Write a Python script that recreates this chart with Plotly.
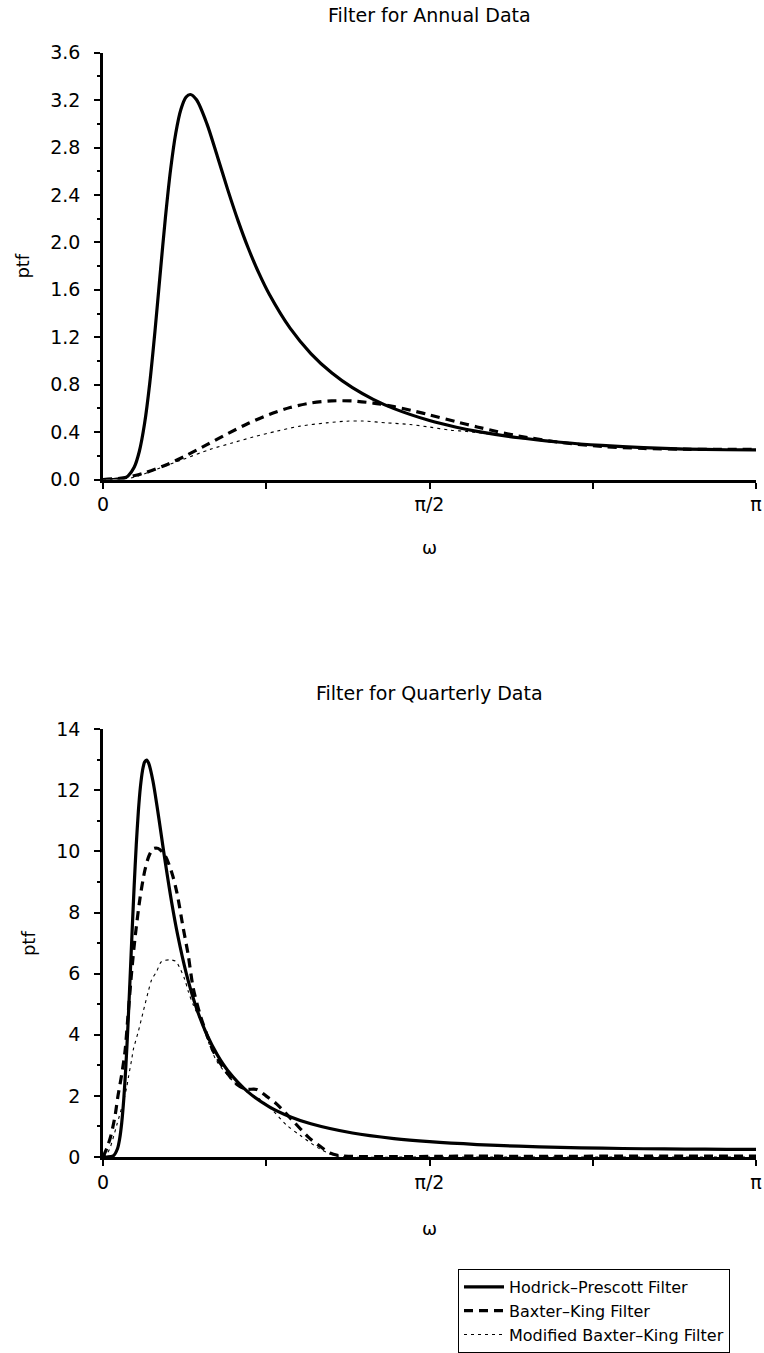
import plotly.graph_objects as go
import math

PI = math.pi

# ---------------- Annual data ----------------
ann_hp_w = [0, 0.05, 0.1, 0.12, 0.15, 0.175, 0.2, 0.225, 0.25, 0.275, 0.3, 0.325, 0.35, 0.375,
            0.4, 0.42, 0.45, 0.5, 0.55, 0.6, 0.65, 0.7, 0.75, 0.8, 0.9, 1.0, 1.1, 1.2, 1.3, 1.4,
            1.5708, 1.7, 1.8, 2.0, 2.2, 2.4, 2.6, 2.8, 3.0, 3.1416]
ann_hp_v = [0, 0.0002, 0.0098, 0.0286, 0.1027, 0.2385, 0.4717, 0.8145, 1.2502, 1.7334, 2.2050,
            2.6119, 2.9215, 3.1237, 3.2261, 3.2476, 3.2028, 3.0000, 2.7273, 2.4454, 2.1818,
            1.9463, 1.7405, 1.5625, 1.2764, 1.0624, 0.8999, 0.7746, 0.6763, 0.5980, 0.4975,
            0.4412, 0.4061, 0.3522, 0.3141, 0.2873, 0.2689, 0.2571, 0.2510, 0.2497]

ann_bk_w = [0, 0.1, 0.2, 0.3, 0.4, 0.5, 0.6, 0.7, 0.8, 0.9, 1.0, 1.1, 1.2, 1.3, 1.4, 1.5, 1.5708,
            1.7, 1.8, 1.9, 2.0, 2.2, 2.4, 2.6, 2.8, 3.0, 3.1416]
ann_bk_v = [0, 0.0143, 0.0557, 0.1204, 0.2022, 0.2936, 0.3867, 0.4740, 0.5489, 0.6069, 0.6452,
            0.6632, 0.6623, 0.6449, 0.6148, 0.5759, 0.5452, 0.4869, 0.4432, 0.4029, 0.3674,
            0.3128, 0.2792, 0.2620, 0.2555, 0.2540, 0.2539]

ann_mbk_w = [0, 0.034, 0.144, 0.258, 0.385, 0.515, 0.625, 0.722, 0.836, 0.948, 1.076, 1.172,
             1.251, 1.365, 1.477, 1.573, 1.669, 1.75, 1.9, 2.0, 2.2, 2.4, 2.6, 2.8, 3.0, 3.1416]
ann_mbk_v = [0, 0.0, 0.017, 0.087, 0.17, 0.254, 0.31, 0.358, 0.408, 0.45, 0.478, 0.492, 0.493,
             0.478, 0.464, 0.442, 0.417, 0.405, 0.375, 0.35, 0.312, 0.286, 0.268, 0.256, 0.251, 0.25]

# ---------------- Quarterly data ----------------
q_hp_w = [0, 0.02, 0.05, 0.07, 0.08, 0.09, 0.10, 0.11, 0.12, 0.13, 0.14, 0.15, 0.16, 0.17, 0.18,
          0.19, 0.20, 0.21, 0.22, 0.24, 0.26, 0.28, 0.30, 0.33, 0.36, 0.40, 0.45, 0.5, 0.55, 0.6,
          0.7, 0.8, 0.9, 1.0, 1.2, 1.4, 1.5708, 1.8, 2.0, 2.2, 2.4, 2.6, 2.8, 3.0, 3.1416]
q_hp_v = [0, 0.0002, 0.0392, 0.2790, 0.5902, 1.1123, 1.8986, 2.9703, 4.2992, 5.8067, 7.3757,
          8.8807, 10.2134, 11.3010, 12.1102, 12.642, 12.922, 12.988, 12.883, 12.3147, 11.4810,
          10.5525, 9.6275, 8.3465, 7.2389, 6.0279, 4.8678, 4.0005, 3.3422, 2.8336, 2.1143,
          1.6430, 1.3185, 1.0861, 0.7835, 0.6021, 0.4998, 0.4073, 0.3530, 0.3147, 0.2877,
          0.2692, 0.2574, 0.2512, 0.2500]

q_bk_w = [0, 0.019, 0.038, 0.058, 0.072, 0.090, 0.106, 0.120, 0.138, 0.154, 0.178, 0.202, 0.221,
          0.242, 0.265, 0.298, 0.330, 0.355, 0.386, 0.410, 0.434, 0.467, 0.500, 0.531, 0.579,
          0.643, 0.688, 0.739, 0.784, 0.836, 0.914, 0.996, 1.054, 1.092, 1.140, 1.188, 1.4, 1.6,
          1.8, 2.0, 2.2, 2.5, 2.8, 3.1416]
q_bk_v = [0, 0.3, 0.7, 1.35, 2.0, 2.7, 3.46, 4.6, 6.07, 7.16, 8.47, 9.4, 9.85, 10.09, 10.1, 9.87,
          9.33, 8.67, 7.49, 6.61, 5.53, 4.66, 4.0, 3.46, 2.92, 2.38, 2.22, 2.21, 2.0, 1.73, 1.18,
          0.6, 0.3, 0.13, 0.04, 0.02, 0.01, 0.02, 0.03, 0.02, 0.02, 0.03, 0.03, 0.03]

q_mbk_w = [0, 0.018, 0.034, 0.066, 0.098, 0.114, 0.122, 0.138, 0.146, 0.170, 0.194, 0.218, 0.234,
           0.258, 0.282, 0.322, 0.351, 0.370, 0.394, 0.410, 0.434, 0.467, 0.505, 0.547, 0.625,
           0.688, 0.755, 0.818, 0.884, 0.948, 1.044, 1.107, 1.164, 1.5, 2.0, 2.5, 3.1416]
q_mbk_v = [0, 0.1, 0.3, 1.04, 1.81, 2.28, 2.6, 3.19, 3.52, 4.11, 4.77, 5.42, 5.80, 6.07, 6.40,
           6.45, 6.4, 6.18, 5.8, 5.42, 4.98, 4.5, 3.8, 3.14, 2.49, 2.15, 1.89, 1.51, 1.04, 0.71,
           0.26, 0.07, 0.0, 0.0, 0.0, 0.0, 0.0]

series_names = ["Hodrick\u2013Prescott Filter", "Baxter\u2013King Filter",
                "Modified Baxter\u2013King Filter"]
x_tickvals = [0, PI / 4, PI / 2, 3 * PI / 4, PI]
x_ticktext = ["0", "", "\u03c0/2", "", "\u03c0"]

FONT = "DejaVu Sans"
W, H = 764, 1353

styles = [dict(color="black", width=3.2, dash="solid"),
          dict(color="black", width=3.2, dash="9px,6px"),
          dict(color="black", width=1.1, dash="3px,4px")]

fig = go.Figure()
for axis_idx, data in [(1, [(ann_hp_w, ann_hp_v), (ann_bk_w, ann_bk_v), (ann_mbk_w, ann_mbk_v)]),
                       (2, [(q_hp_w, q_hp_v), (q_bk_w, q_bk_v), (q_mbk_w, q_mbk_v)])]:
    for k, (xw, yv) in enumerate(data):
        fig.add_trace(go.Scatter(
            x=xw, y=yv, mode="lines", name=series_names[k],
            line=dict(shape="spline", smoothing=0.8, **styles[k]),
            xaxis="x" if axis_idx == 1 else "x2",
            yaxis="y" if axis_idx == 1 else "y2",
            showlegend=(axis_idx == 2), legendgroup=str(k)))

xd = [103 / W, 756 / W]
top_dom = [1 - 482 / H, 1 - 53 / H]
bot_dom = [1 - 1163 / H, 1 - 733 / H]

common_x = dict(range=[0, PI], tickmode="array", tickvals=x_tickvals, ticktext=x_ticktext,
                ticks="outside", ticklen=6, tickwidth=1.5, tickcolor="black",
                showline=True, linecolor="black", linewidth=3, showgrid=False, zeroline=False,
                tickfont=dict(family=FONT, size=19, color="black"), domain=xd,
                automargin=False, ticklabelstandoff=0)
common_y = dict(ticks="outside", ticklen=6, tickwidth=1.5, tickcolor="black",
                showline=True, linecolor="black", linewidth=2.5, showgrid=False, zeroline=False,
                tickfont=dict(family=FONT, size=19, color="black"), automargin=False,
                ticklabelstandoff=10)

fig.update_layout(
    width=W, height=H, margin=dict(l=0, r=0, t=0, b=0),
    paper_bgcolor="white", plot_bgcolor="white",
    xaxis=dict(**common_x, anchor="y"),
    yaxis=dict(**common_y, domain=top_dom, anchor="x", range=[0, 3.6], dtick=0.4,
               tickformat=".1f",
               minor=dict(dtick=0.2, ticks="outside", ticklen=3, tickcolor="black", showgrid=False)),
    xaxis2=dict(**common_x, anchor="y2"),
    yaxis2=dict(**common_y, domain=bot_dom, anchor="x2", range=[0, 14], dtick=2,
                minor=dict(dtick=1, ticks="outside", ticklen=3, tickcolor="black", showgrid=False)),
    showlegend=True,
    legend=dict(x=458 / W, y=1 - 1276 / H, xanchor="left", yanchor="top",
                bordercolor="black", borderwidth=1, bgcolor="white",
                font=dict(family=FONT, size=16, color="black"), tracegroupgap=0,
                itemwidth=40),
    font=dict(family=FONT, color="black"),
)

ann = [
    ("Filter for Annual Data", 430, 15, 0, 19),
    ("Filter for Quarterly Data", 430, 697, 0, 19),
    ("\u03c9", 430, 550, 0, 18),
    ("\u03c9", 430, 1235, 0, 18),
    ("ptf", 23, 268, -90, 18),
    ("ptf", 28, 948, -90, 18),
]
for txt, px, py, ang, sz in ann:
    fig.add_annotation(text=txt, x=px / W, y=1 - py / H, xref="paper", yref="paper",
                       showarrow=False, textangle=ang, xanchor="center", yanchor="middle",
                       font=dict(family=FONT, size=sz, color="black"))

fig.write_html("out.html")
